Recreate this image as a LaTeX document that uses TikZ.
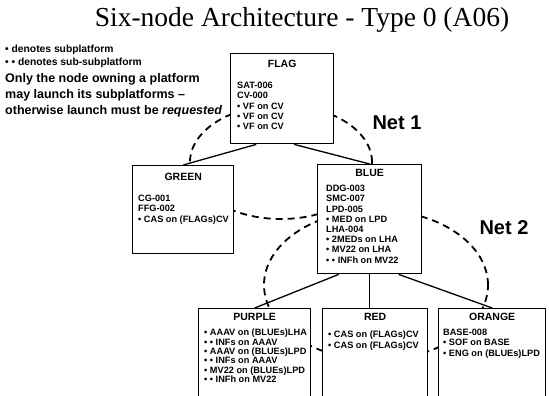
\documentclass[tikz,border=0pt]{standalone}
\usepackage{fontspec}
\setmainfont{Liberation Sans}
\newfontfamily\titlefont{Liberation Serif}
\usetikzlibrary{positioning,calc}

\begin{document}
\begin{tikzpicture}[x=1pt, y=-1pt,
   netbox/.style={draw, line width=1.4pt, fill=white, anchor=north west, inner sep=0pt},
   boxname/.style={font=\fontsize{10.5}{12}\selectfont\bfseries, inner sep=0pt, anchor=north},
   boxitems/.style={font=\fontsize{9.2}{10.2}\selectfont\bfseries, align=left, inner sep=0pt},
   smallnote/.style={font=\fontsize{10.3}{11}\selectfont\bfseries, anchor=west, inner sep=0pt},
   bignote/.style={font=\fontsize{12.5}{14}\selectfont\bfseries, anchor=west, inner sep=0pt},
   netring/.style={line width=1.8pt, dash pattern=on 7pt off 5pt},
   netname/.style={font=\fontsize{20}{22}\selectfont\bfseries},
   link/.style={line width=1.3pt}]
   \useasboundingbox (0,0) rectangle (549,396);
   \clip (0,0) rectangle (549,396);

   \node (title) at (302,20) {\titlefont\fontsize{27.5}{30}\selectfont Six-node Architecture - Type 0 (A06)};
   \node[smallnote] (note1) at (5,50) {• denotes subplatform};
   \node[smallnote] (note2) at (5,63) {• • denotes sub-subplatform};
   \node[bignote] (note3) at (5,79) {Only the node owning a platform};
   \node[bignote] (note4) at (5,95) {may launch its subplatforms --};
   \node[bignote] (note5) at (5,111) {otherwise launch must be \textit{requested}};

   \coordinate (net1) at (281,162);
   \coordinate (net2) at (376,285);
   \draw[netring] (net1) ellipse [x radius=91pt, y radius=57pt];
   \draw[netring] (net2) ellipse [x radius=112pt, y radius=75pt];
   \node[netname] (net1-label) at (397,123) {Net 1};
   \node[netname] (net2-label) at (504,228) {Net 2};

   \begin{scope}[every node/.append style={netbox}]
    \node[minimum width=103pt, minimum height=90pt] (flag) at (230,53) {};
    \node[minimum width=101pt, minimum height=88pt] (green) at (132,165) {};
    \node[minimum width=104pt, minimum height=109pt] (blue) at (317,164) {};
    \node[minimum width=112pt, minimum height=100pt] (purple) at (198,308) {};
    \node[minimum width=105pt, minimum height=100pt] (red) at (322,308) {};
    \node[minimum width=107pt, minimum height=100pt] (orange) at (438,308) {};
   \end{scope}

   \draw[link] ([xshift=-26pt]flag.south) -- (green.north);
   \draw[link] ([xshift=12pt]flag.south) -- (blue.north);
   \draw[link] ([xshift=-31pt]blue.south) -- (purple.north);
   \draw[link] (blue.south) -- (blue.south |- red.north);
   \draw[link] ([xshift=29pt]blue.south) -- (orange.north);

   \node[boxname, below=7pt of flag.north] (flag-name) {FLAG};
   \node[boxname, below=8pt of green.north] (green-name) {GREEN};
   \node[boxname, below=5pt of blue.north] (blue-name) {BLUE};
   \node[boxname, below=5pt of purple.north] (purple-name) {PURPLE};
   \node[boxname, below=5pt of red.north] (red-name) {RED};
   \node[boxname, below=5pt of orange.north] (orange-name) {ORANGE};

   \node[boxitems, below right=29pt and 7pt of flag.north west] (flag-items)
      {SAT-006\\CV-000\\• VF on CV\\• VF on CV\\• VF on CV};
   \node[boxitems, below right=30pt and 6pt of green.north west] (green-items)
      {CG-001\\FFG-002\\• CAS on (FLAGs)CV};
   \node[boxitems, below right=21pt and 9pt of blue.north west] (blue-items)
      {DDG-003\\SMC-007\\LPD-005\\• MED on LPD\\LHA-004\\• 2MEDs on LHA\\• MV22 on LHA\\• • INFh on MV22};
   \node[boxitems, font=\fontsize{9.2}{9.3}\selectfont\bfseries, below right=21pt and 6pt of purple.north west] (purple-items)
      {• AAAV on (BLUEs)LHA\\• • INFs on AAAV\\• AAAV on (BLUEs)LPD\\• • INFs on AAAV\\• MV22 on (BLUEs)LPD\\• • INFh on MV22};
   \node[boxitems, below right=23pt and 6pt of red.north west] (red-items)
      {• CAS on (FLAGs)CV\\• CAS on (FLAGs)CV};
   \node[boxitems, below right=21pt and 5pt of orange.north west] (orange-items)
      {BASE-008\\• SOF on BASE\\• ENG on (BLUEs)LPD};
\end{tikzpicture}
\end{document}
